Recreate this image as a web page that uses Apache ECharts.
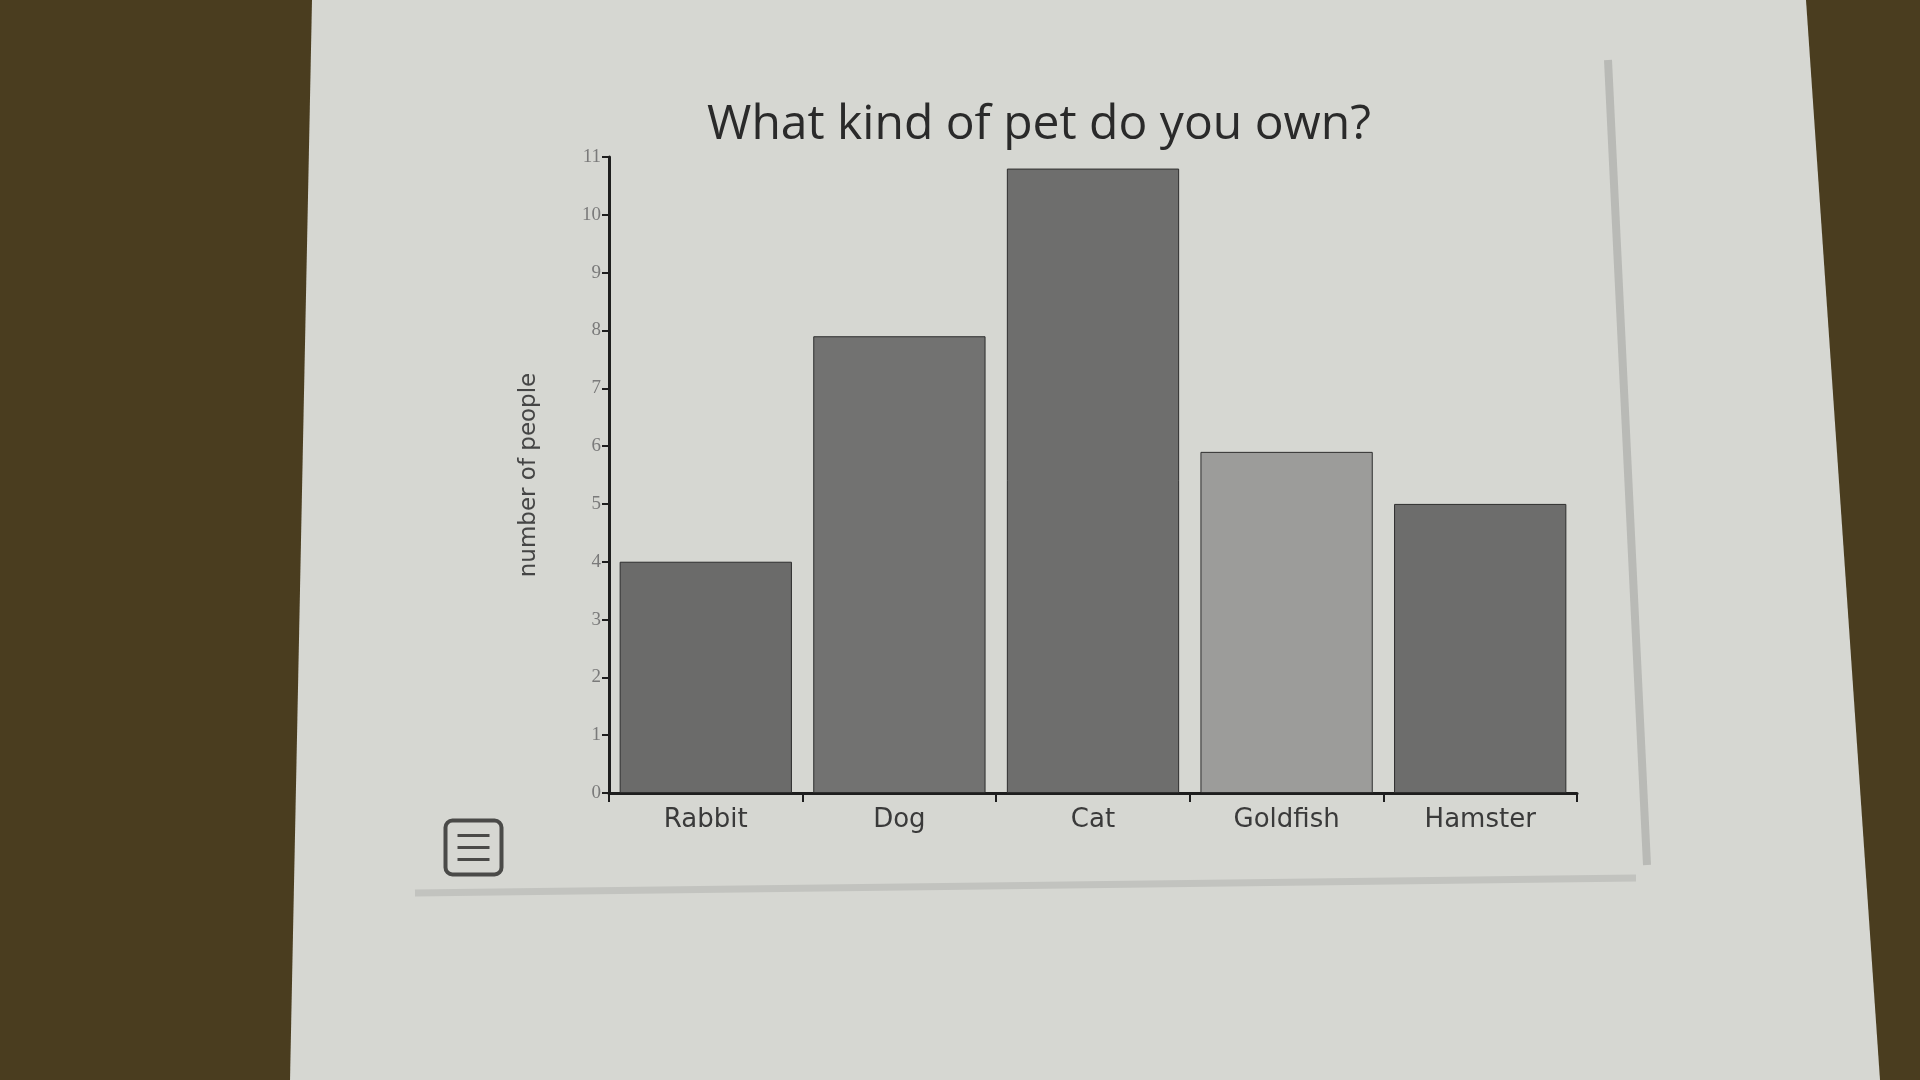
<!DOCTYPE html>
<html lang="en">
<head>
    <meta charset="UTF-8">
    <title>Pet chart</title>
    <script src="https://cdn.jsdelivr.net/npm/echarts@6/dist/echarts.min.js"></script>
    <style>
        html, body { margin: 0; padding: 0; background: #4a3d1f; }
        #chart { width: 1920px; height: 1080px; }
    </style>
</head>
<body>
<div id="chart"></div>
<script type="text/javascript">
    // data
    const pets = ['Rabbit', 'Dog', 'Cat', 'Goldfish', 'Hamster'];
    const owners = [4, 7.9, 10.8, 5.9, 5];
    const barColors = ['#6b6b6a', '#727271', '#6e6e6d', '#9c9c9a', '#6d6d6c'];

    let chart = echarts.init(document.getElementById('chart'));

    let option = {
        backgroundColor: '#4a3d1f',
        title: {
            text: 'What kind of pet do you own?',
            left: 1034,
            textAlign: 'center',
            top: 96,
            textStyle: {
                fontFamily: 'Open Sans',
                fontWeight: 'normal',
                fontSize: 48,
                color: '#2a2a2a'
            }
        },
        graphic: [
            // the sheet of paper
            {
                type: 'polygon',
                z: -10,
                shape: { points: [[312, 0], [1806, 0], [1880, 1080], [290, 1080]] },
                style: { fill: '#d6d7d2' }
            },
            // grey frame lines
            {
                type: 'line',
                z: -5,
                shape: { x1: 1608, y1: 60, x2: 1647, y2: 865 },
                style: { stroke: '#b9bab6', lineWidth: 8 }
            },
            {
                type: 'line',
                z: -5,
                shape: { x1: 415, y1: 893, x2: 1636, y2: 878 },
                style: { stroke: '#c2c3bf', lineWidth: 7 }
            },
            // menu icon
            {
                type: 'group',
                left: 443,
                top: 818,
                children: [
                    { type: 'rect', shape: { x: 0, y: 0, width: 56, height: 54, r: 7 }, style: { fill: 'none', stroke: '#4a4a48', lineWidth: 4 } },
                    { type: 'line', shape: { x1: 12, y1: 15, x2: 44, y2: 15 }, style: { stroke: '#4a4a48', lineWidth: 3 } },
                    { type: 'line', shape: { x1: 12, y1: 27, x2: 44, y2: 27 }, style: { stroke: '#4a4a48', lineWidth: 3 } },
                    { type: 'line', shape: { x1: 12, y1: 39, x2: 44, y2: 39 }, style: { stroke: '#4a4a48', lineWidth: 3 } }
                ]
            }
        ],
        grid: {
            left: 609,
            right: 343,
            top: 157,
            bottom: 287
        },
        xAxis: {
            type: 'category',
            data: pets,
            axisLine: { lineStyle: { color: '#1e1e1e', width: 3 } },
            axisTick: { show: true, length: 9, lineStyle: { color: '#1e1e1e', width: 2 } },
            axisLabel: {
                margin: 14,
                fontFamily: 'DejaVu Sans',
                fontSize: 26,
                color: '#3a3a3a'
            }
        },
        yAxis: {
            type: 'value',
            min: 0,
            max: 11,
            interval: 1,
            name: 'number of people',
            nameLocation: 'middle',
            nameGap: 68,
            nameTextStyle: {
                fontFamily: 'DejaVu Sans',
                fontSize: 23,
                color: '#454545'
            },
            splitLine: { show: false },
            axisLine: { show: true, lineStyle: { color: '#1e1e1e', width: 3 } },
            axisTick: { show: true, length: 7, lineStyle: { color: '#1e1e1e', width: 2 } },
            axisLabel: {
                margin: 8,
                fontFamily: 'Liberation Serif',
                fontSize: 19,
                color: '#7a7a7a'
            }
        },
        series: [
            {
                type: 'bar',
                data: owners,
                barCategoryGap: '11%',
                itemStyle: {
                    borderColor: '#2e2e2e',
                    borderWidth: 1,
                    color: function (params) {
                        return barColors[params.dataIndex];
                    }
                }
            }
        ]
    };

    chart.setOption(option);
</script>
</body>
</html>
